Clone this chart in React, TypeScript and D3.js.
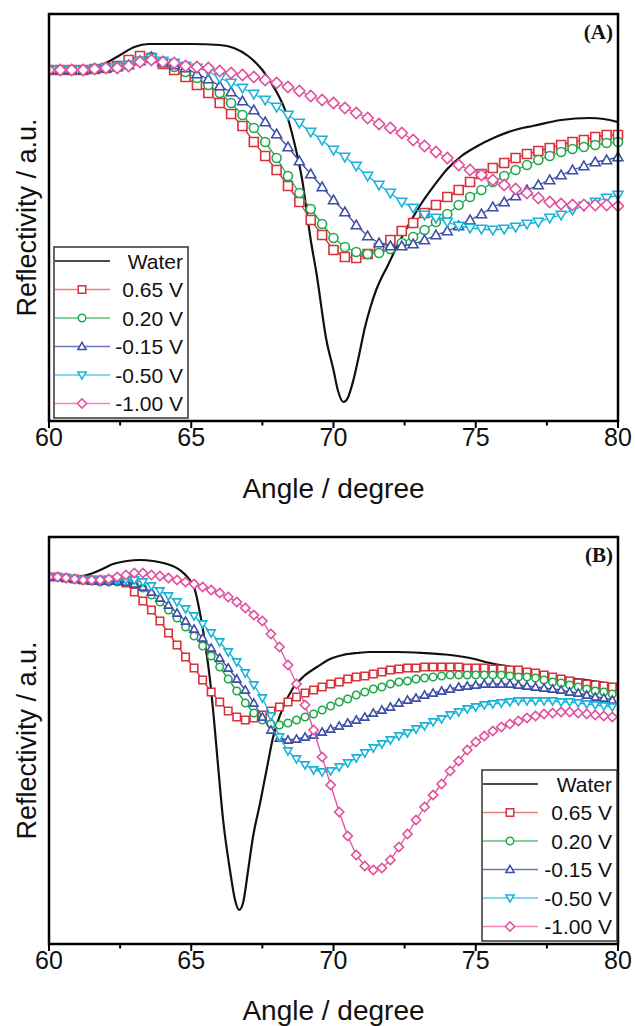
import React from "react";
import * as d3 from "d3";

// ---------- DATA ----------
const seriesLabels = ["0.65 V", "0.20 V", "-0.15 V", "-0.50 V", "-1.00 V"];
const waterLabel = "Water";
const xTicksMajor = [60, 65, 70, 75, 80];
const xTicksMinor = [62.5, 67.5, 72.5, 77.5];

// Panel A (step 0.4 deg)
const anglesA = [60, 60.4, 60.8, 61.2, 61.6, 62, 62.4, 62.8, 63.2, 63.6, 64, 64.4, 64.8, 65.2, 65.6, 66, 66.4, 66.8, 67.2, 67.6, 68, 68.4, 68.8, 69.2, 69.6, 70, 70.4, 70.8, 71.2, 71.6, 72, 72.4, 72.8, 73.2, 73.6, 74, 74.4, 74.8, 75.2, 75.6, 76, 76.4, 76.8, 77.2, 77.6, 78, 78.4, 78.8, 79.2, 79.6, 80];
const a065 = [430,430,430,430,431,432,434,440,444,442, 436,430,423,415,407,397,386,374,358,344, 330,314,298,280,265,250,243,242,246,252, 260,269,277,287,295,303,310,318,326,332, 337,342,346,349,352,355,358,360,363,365, 365];
const a020 = [430,430,430,430,431,432,433,435,439,443, 437,433,428,422,415,407,397,385,372,358, 342,324,307,291,276,262,253,248,246,247, 251,257,263,270,278,286,295,303,310,318, 324,330,335,340,344,348,351,353,355,357, 358];
const am015 = [430,430,430,430,431,432,433,435,439,443, 438,435,432,426,421,414,408,399,390,378, 366,353,339,326,313,300,288,275,264,257, 254,254,256,260,265,269,274,280,286,293, 298,304,310,315,320,325,330,334,338,340, 343];
const am050 = [430,430,430,430,431,432,433,435,439,442, 439,437,434,432,429,422,417,412,406,400, 393,385,377,368,360,350,343,334,324,315, 307,298,292,285,282,278,274,272,271,270, 271,273,276,278,282,285,290,294,298,302, 305];
const am100 = [430,430,430,430,431,432,432,434,438,440, 438,437,434,433,432,429,427,425,423,420, 417,413,409,404,400,397,392,387,382,376, 372,367,360,354,348,342,335,330,325,320, 315,311,307,302,298,296,295,295,295,295, 294];
const waterAngleA = [60, 61, 61.5, 62, 62.5, 63, 63.5, 64, 65, 66, 66.5, 67, 67.5, 68, 68.3, 68.6, 68.9, 69.2, 69.4, 69.75, 70, 70.15, 70.35, 70.5, 70.7, 70.9, 71.1, 71.3, 71.5, 71.7, 71.9, 72.2, 72.5, 72.8, 73.1, 73.5, 74, 74.5, 75, 75.7, 76.5, 77, 78, 79, 79.5, 80];
const waterA = [430, 430, 432, 437, 445, 453, 456, 456, 456, 455, 452, 444, 430, 408, 390, 360, 320, 260, 227, 160, 130, 110, 98, 102, 120, 145, 172, 193, 210, 223, 234, 252, 268, 283, 297, 313, 331, 344, 353, 363, 371, 374, 380, 382, 381, 378];

// Panel B (step 0.3 deg)
const anglesB = [60, 60.3, 60.6, 60.9, 61.2, 61.5, 61.8, 62.1, 62.4, 62.7, 63, 63.3, 63.6, 63.9, 64.2, 64.5, 64.8, 65.1, 65.4, 65.7, 66, 66.3, 66.6, 66.9, 67.2, 67.5, 67.8, 68.1, 68.4, 68.7, 69, 69.3, 69.6, 69.9, 70.2, 70.5, 70.8, 71.1, 71.4, 71.7, 72, 72.3, 72.6, 72.9, 73.2, 73.5, 73.8, 74.1, 74.4, 74.7, 75, 75.3, 75.6, 75.9, 76.2, 76.5, 76.8, 77.1, 77.4, 77.7, 78, 78.3, 78.6, 78.9, 79.2, 79.5, 79.8];
const b065 = [423,423,422,421,420,420,420,420,420,417, 408,399,390,379,367,355,343,332,320,308, 298,289,283,280,282,285,289,293,298,303, 307,310,313,316,318,321,323,324,326,328, 330,331,332,332,333,333,333,333,333,332, 332,332,331,331,330,330,328,327,325,323, 321,319,317,316,315,314,313];
const b020 = [423,423,422,421,420,419,418,418,418,418, 416,412,405,398,390,382,373,364,354,344, 333,321,309,297,287,280,276,275,277,280, 283,286,290,294,298,301,305,308,311,313, 316,318,319,321,322,323,324,325,325,325, 325,325,325,325,324,323,323,322,320,318, 317,315,313,311,309,308,306];
const bm015 = [423,423,422,421,420,419,419,419,419,418, 416,413,408,402,395,387,379,371,362,352, 342,332,321,310,297,283,270,262,260,261, 263,265,268,271,274,277,280,283,287,290, 293,297,300,302,305,307,309,311,313,314, 315,316,316,316,316,315,314,313,312,311, 310,308,307,305,303,302,300];
const bm050 = [423,423,422,421,420,420,420,420,420,420, 420,418,414,409,404,398,391,384,376,367, 358,348,338,327,315,302,284,263,249,241, 235,230,228,229,233,237,242,247,252,256, 260,264,267,271,274,278,281,285,288,291, 293,295,296,297,298,299,299,299,299,299, 298,298,297,296,295,294,293];
const bm100 = [423,423,422,421,420,420,420,421,423,425, 427,427,425,424,422,420,418,416,413,410, 407,403,398,392,385,379,366,353,335,316, 295,270,243,215,188,164,145,134,130,132, 140,153,166,180,193,205,216,229,239,250, 258,264,269,273,276,279,282,284,286,287, 288,288,287,286,285,284,283];
const waterAngleB = [60, 60.9, 61.34, 61.8, 62.25, 62.74, 63.2, 63.66, 64.15, 64.6, 64.89, 65.13, 65.3, 65.48, 65.66, 65.8, 65.94, 66.12, 66.36, 66.54, 66.68, 66.82, 67, 67.17, 67.42, 67.66, 67.87, 68.22, 68.58, 68.93, 69.42, 69.88, 70.33, 70.83, 71.28, 72.23, 73.15, 74.1, 74.8, 75.5, 76.45, 77.36, 78.3, 79.1, 80];
const waterB = [423, 423, 425, 430, 436, 439, 440, 439, 436, 430, 422, 410, 388, 358, 320, 280, 235, 180, 130, 100, 90, 97, 130, 163, 197, 232, 262, 292, 312, 323, 333, 341, 345, 347, 348, 348, 347, 345, 342, 337, 332, 327, 322, 319, 315];

// ---------- STYLE ----------
const colors = ["#d8323a", "#1fa84b", "#3d4ea6", "#19b3d8", "#e3509c"];
const legendLineColors = ["#e6807f", "#5cc47a", "#6b76bd", "#5cc8e6", "#ee86ba"];
const shapes = ["square", "circle", "triUp", "triDown", "diamond"];
const FONT = "'Liberation Sans', Arial, Helvetica, sans-serif";

function markerPath(shape: string, s: number): string {
  const h = s / 2;
  switch (shape) {
    case "square":
      return `M${-h},${-h}H${h}V${h}H${-h}Z`;
    case "circle": {
      const r = h;
      return `M${r},0A${r},${r} 0 1,1 ${-r},0A${r},${r} 0 1,1 ${r},0Z`;
    }
    case "triUp": {
      const t = s * 0.55;
      return `M0,${-t}L${t},${t * 0.75}L${-t},${t * 0.75}Z`;
    }
    case "triDown": {
      const t = s * 0.55;
      return `M0,${t}L${t},${-t * 0.75}L${-t},${-t * 0.75}Z`;
    }
    case "diamond": {
      const d = s * 0.62;
      return `M0,${-d}L${d},0L0,${d}L${-d},0Z`;
    }
  }
  return "";
}

interface PanelProps {
  top: number;
  bottom: number;
  yDomain: [number, number];
  angles: number[];
  series: number[][];
  waterAngles: number[];
  water: number[];
  tag: string;
  legend: { x: number; y: number; w: number; h: number };
  markerSize: number;
  titleY: number;
  tickLabelY: number;
}

function Panel(p: PanelProps) {
  const left = 49;
  const right = 618;
  const x = d3.scaleLinear().domain([60, 80]).range([left, right]);
  const y = d3.scaleLinear().domain(p.yDomain).range([p.bottom, p.top]);
  const waterLine = d3
    .line<number>()
    .x((_, i) => x(p.waterAngles[i]))
    .y((d) => y(d))
    .curve(d3.curveMonotoneX);
  const seriesLine = d3
    .line<number>()
    .x((_, i) => x(p.angles[i]))
    .y((d) => y(d));
  const clipId = "clip" + p.tag;
  const midY = (p.top + p.bottom) / 2;
  const rowH = 28.5;
  const leg = p.legend;
  return (
    <g>
      <defs>
        <clipPath id={clipId}>
          <rect x={left} y={p.top - 6} width={right - left + 6} height={p.bottom - p.top + 6} />
        </clipPath>
      </defs>
      <g clipPath={`url(#${clipId})`}>
        <path d={waterLine(p.water) || ""} fill="none" stroke="#111" strokeWidth={2.2} />
        {p.series.map((vals, si) => (
          <g key={si}>
            <path d={seriesLine(vals) || ""} fill="none" stroke={colors[si]} strokeWidth={1.3} />
            {vals.map((v, i) => (
              <path
                key={i}
                d={markerPath(shapes[si], p.markerSize)}
                transform={`translate(${x(p.angles[i])},${y(v)})`}
                fill="#fff"
                stroke={colors[si]}
                strokeWidth={1.6}
              />
            ))}
          </g>
        ))}
      </g>
      <rect x={left} y={p.top} width={right - left} height={p.bottom - p.top} fill="none" stroke="#000" strokeWidth={2.5} />
      {xTicksMajor.map((t) => (
        <g key={"M" + t}>
          <line x1={x(t)} x2={x(t)} y1={p.bottom} y2={p.bottom + 7} stroke="#000" strokeWidth={2} />
          <text x={x(t)} y={p.tickLabelY} textAnchor="middle" fontFamily={FONT} fontSize={25} fill="#111">
            {t}
          </text>
        </g>
      ))}
      {xTicksMinor.map((t) => (
        <line key={"m" + t} x1={x(t)} x2={x(t)} y1={p.bottom} y2={p.bottom + 4.5} stroke="#000" strokeWidth={2} />
      ))}
      <text x={(left + right) / 2} y={p.titleY} textAnchor="middle" fontFamily={FONT} fontSize={28} fill="#111">
        Angle / degree
      </text>
      <text
        transform={`translate(27,${midY}) rotate(-90)`}
        textAnchor="middle"
        dominantBaseline="central"
        fontFamily={FONT}
        fontSize={27}
        fill="#111"
      >
        Reflectivity / a.u.
      </text>
      <text x={613} y={p.top + 25} textAnchor="end" fontFamily="'Liberation Serif', 'Times New Roman', serif" fontWeight="bold" fontSize={21} fill="#111">
        {"(" + p.tag + ")"}
      </text>
      <g>
        <rect x={leg.x} y={leg.y} width={leg.w} height={leg.h} fill="#fff" stroke="#333" strokeWidth={1.5} />
        {[waterLabel, ...seriesLabels].map((lab, k) => {
          const cy = leg.y + 14 + k * rowH;
          const lx1 = leg.x + 1;
          const lx2 = leg.x + 56;
          const mx = leg.x + 28;
          return (
            <g key={lab}>
              <line x1={lx1} x2={lx2} y1={cy} y2={cy} stroke={k === 0 ? "#111" : legendLineColors[k - 1]} strokeWidth={1.5} />
              {k > 0 && (
                <path
                  d={markerPath(shapes[k - 1], 7.5)}
                  transform={`translate(${mx},${cy})`}
                  fill="#fff"
                  stroke={colors[k - 1]}
                  strokeWidth={1.5}
                />
              )}
              <text x={leg.x + leg.w - 5} y={cy} textAnchor="end" dominantBaseline="central" fontFamily={FONT} fontSize={21} fill="#111">
                {lab}
              </text>
            </g>
          );
        })}
      </g>
    </g>
  );
}

export default function App() {
  return (
    <svg width={635} height={1026} style={{ position: "absolute", left: 0, top: 0, background: "#fff" }}>
      <rect x={0} y={0} width={635} height={1026} fill="#fff" />
      <Panel
        top={14}
        bottom={421}
        yDomain={[79, 486]}
        angles={anglesA}
        series={[a065, a020, am015, am050, am100]}
        waterAngles={waterAngleA}
        water={waterA}
        tag="A"
        legend={{ x: 54, y: 247, w: 134, h: 171 }}
        markerSize={9}
        titleY={498}
        tickLabelY={446}
      />
      <Panel
        top={537}
        bottom={944}
        yDomain={[56, 463]}
        angles={anglesB}
        series={[b065, b020, bm015, bm050, bm100]}
        waterAngles={waterAngleB}
        water={waterB}
        tag="B"
        legend={{ x: 482, y: 770, w: 135, h: 171 }}
        markerSize={7.5}
        titleY={1020}
        tickLabelY={969}
      />
    </svg>
  );
}
